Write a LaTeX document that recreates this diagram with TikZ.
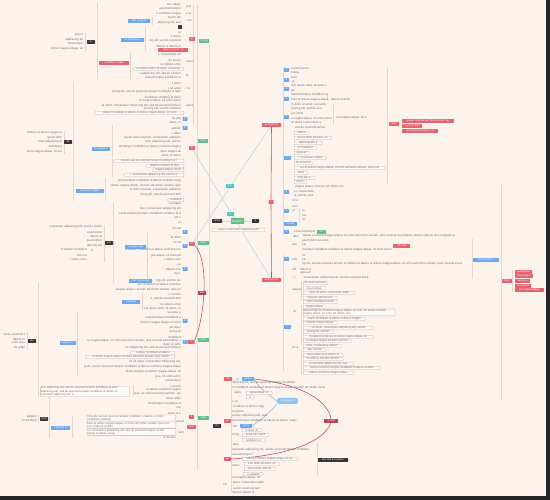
\documentclass[tikz,border=0pt]{standalone}
\usepackage{fontspec}
\setmainfont{Liberation Sans}
\usetikzlibrary{backgrounds}
\definecolor{bgc}{HTML}{FCF3EC}
\definecolor{txc}{HTML}{707070}
\definecolor{palec}{HTML}{E8D5CA}
\definecolor{redc}{HTML}{E3636F}
\definecolor{dredc}{HTML}{B8434D}
\definecolor{bluec}{HTML}{6EA7EC}
\definecolor{lbluec}{HTML}{8FC3F2}
\definecolor{greenc}{HTML}{62BF8A}
\definecolor{darkc}{HTML}{363636}
\definecolor{tealc}{HTML}{4FC2BE}
\definecolor{tlinec}{HTML}{A9DCD5}
\definecolor{rlinec}{HTML}{C2545D}
\definecolor{blinec}{HTML}{8DBEEA}
\definecolor{wbc}{HTML}{BDB5AF}
\definecolor{wfc}{HTML}{FFFAF6}
\newcount\tkcnt \newcount\tkskp
\def\tkstr{Lorem~ipsum~dolor~sit~amet,~consectetur~adipiscing~elit,~sed~do~eiusmod~tempor~incididunt~ut~labore~et~dolore~magna~aliqua.~Ut~enim~ad~minim~veniam,~quis~nostrud~exercitation~ullamco~laboris~nisi~ut~aliquip~ex~ea~commodo~consequat.~Duis~aute~irure~dolor~in~reprehenderit~in~voluptate~velit~esse~cillum~dolore~eu~fugiat~nulla~pariatur.~Excepteur~sint~occaecat~cupidatat~non~proident,~sunt~in~culpa~qui~officia~deserunt~mollit~anim~id~est~laborum.}
\def\tkloop#1{\ifx\relax#1\let\tknext\relax\else
  \ifnum\tkskp>0 \advance\tkskp by -1 \let\tknext\tkloop\else
  \ifnum\tkcnt>0 #1\advance\tkcnt by -1 \let\tknext\tkloop\else
  \let\tknext\tkgobble\fi\fi\fi\tknext}
\def\tkgobble#1\relax{}
\newcommand\tk[2]{\pgfmathtruncatemacro\tkn{max(1,(#2)/1.4)}\pgfmathtruncatemacro\tks{mod(int(#1*7),120)}\tkskp=\tks\relax\tkcnt=\tkn\relax\expandafter\tkloop\tkstr\relax}
\tikzset{
  tr/.style={font=\fontsize{3}{3.6}\selectfont, text=txc, inner sep=0pt, anchor=west},
  tl/.style={tr, anchor=east},
  cb/.style={inner sep=0pt, minimum height=3.6pt, font=\fontsize{2.6}{3}\selectfont, text=white, rounded corners=0.4pt},
  rbox/.style={cb, fill=redc},
  dbox/.style={cb, fill=darkc},
  bbox/.style={cb, fill=bluec},
  gbox/.style={cb, fill=greenc},
  drbox/.style={cb, fill=dredc},
  tbox/.style={cb, fill=tealc},
  wbox/.style={draw=wbc, line width=0.3pt, fill=wfc, inner sep=0.4pt, rounded corners=0.6pt, font=\fontsize{2.8}{3.3}\selectfont, text=txc, minimum height=3.4pt},
  pale/.style={draw=palec, line width=0.5pt},
}
\begin{document}
\begin{tikzpicture}[x=1pt,y=-1pt]
\useasboundingbox (0,0) rectangle (550,500);
% ---------- left text rows (right aligned)
\foreach \y/\w [count=\i] in {5/16, 9/23, 14/26, 18/13, 23/28, 32/4, 37/13, 41/35, 46/28, 55/24, 60/13, 64/25, 74/45, 78/37, 83/10, 88/15, 92/75, 97/41, 101/43, 105.5/86, 109/40, 119/10, 123/13, 128/11, 133/11, 138/61, 142/41, 147/66, 152/21, 156/21, 181/65, 186/74, 190/55, 195/43, 204/10, 209/46, 214/65, 218/7, 223/3, 228/11, 237/13, 242/12, 250/60, 256/33, 260/17, 265/6, 269/17, 274/8, 281/28, 285/48, 290/65, 295/14, 299/31, 304/24, 309/38, 313/14, 318/35, 323/44, 327/13, 332/14, 337/15, 341/97, 344.5/20, 348/59, 362/60, 367/103, 372/60, 377/26, 381/17, 386/11, 390/35, 394/48, 399/17, 404/35, 408/5, 413/17}
  \node[tl] (L\i) at (181,\y) {\tk{\y}{\w}};
\foreach \x/\y/\w [count=\i] in {83/35/11, 83/40/20, 83/44/13, 83/49/33, 62/133/37, 62/138/14, 62/142/27, 62/147/14, 62/152/37, 102/227/57, 102/232/14, 102/236/14, 102/241/16, 102/246/19, 87/250/29, 87/255/10, 87/260/17, 25/334/22, 25/339/15, 25/343/13, 25/348/13, 37/417/13, 37/421/13, 184/421/6, 184/433/6, 176/437/13, 93/250/3}
  \node[tl] (LL\i) at (\x,\y) {\tk{\y}{\w}};
% ---------- right text rows (left aligned)
\foreach \x/\y/\w [count=\i] in {291/68.7/18, 291/72.7/7, 291/77/7, 291/81.3/6, 291/86/39, 291/90.7/5, 291/95/39, 291/99.3/39, 291/104.3/37, 291/109/36, 291/113.7/14, 291/118.3/41, 291/122.7/33, 294/128/30, 331/99/21, 336/118/32, 294/187/50, 294/192/22, 294/196/23, 292/201/7, 292/206/7, 292/211/4, 302/211/5, 302/215/5, 302/220/5, 292/236/7, 302/236/165, 302/241/30, 292/245/7, 302/245/5, 302/250/94, 302/255/5, 292/259/7, 302/259/5, 302/264/167, 292/269/5, 300/269/12, 300/273/12, 292/278/5, 302/278/71, 292/290/8, 292/311/8, 292/348/8, 232/383/69, 232/388/99, 234/393/8, 232/402/7, 232/407/34, 232/412/12, 232/416/40, 232/421/67, 232/426/6, 232/435/9, 232/445/7, 232/450/82, 232/455/22, 232/466/8, 232/478/29, 232/483/34, 232/488/27, 232/492/27, 223/485/5, 186/7/6, 186/14/6, 186/21/6, 186/62/6, 186/76/6, 186/88/6, 186/106/6, 236/379/4, 294/232/22}
  \node[tr] (R\i) at (\x,\y) {\tk{\y}{\w}};
% ---------- bordered boxes
\foreach \x/\y/\w [count=\i] in {184/69/51, 184/113/89, 184/161/70, 184/166/38, 184/170/31, 184/175/60, 184/200/16, 175/353/44, 175/357/89}
  \node[wbox, anchor=east, minimum width=\w] (WL\i) at (\x,\y) {\tk{\y}{\w-3}};
\foreach \y [count=\i] in {418,425,432}
  \node[wbox, anchor=east, text width=88, align=left] (WM\i) at (176,\y) {\tk{\y}{88}\\\tk{\y+3}{30}};
\node[wbox, text width=88, align=left] (WX) at (85,391.5) {\tk{5}{88}\\\tk{40}{88}\\\tk{90}{40}};
\foreach \x/\y/\w [count=\i] in {294/133/15, 294/138/37, 294/143/28, 294/148/22, 294/153/15, 294/158/32, 294/163/18, 294/168/91, 294/173/13, 294/178/20, 294/182/12, 303/283/24, 303/288/22, 303/293/51, 303/298/34, 303/302/34, 303/307/22, 303/319/62, 303/323/34, 303/328/70, 303/332/30, 303/337/70, 303/341/48, 303/346/38, 303/350/22, 303/355/40, 303/359/40, 303/364/50, 303/368/77, 303/373/50, 246/393/26, 246/397/8, 242/430/19, 242/440/23, 242/459/55, 244/464/35, 244/469/31, 243/474/20, 242/435/27}
  \node[wbox, anchor=west, minimum width=\w] (WR\i) at (\x,\y) {\tk{\y}{\w-3}};
\node[wbox, anchor=west, text width=91, align=left] (WR2L) at (303,312.5) {\tk{12}{91}\\\tk{50}{50}};
\node[wbox, minimum width=53] (wC) at (238.5,230) {\tk{3}{50}};
% ---------- coloured nodes
\foreach \n/\x/\y/\w in {d1/91/42/8, d2/68/142/8, d3/109/243/8, d4/32/341/8, d5/44/419/8, dC1/217/221/10, dC2/255.5/221/7, d6/217/426/8, d7/333/460/30, d8/180/27/4}
  \node[dbox, minimum width=\w] (\n) at (\x,\y) {\tk{\x}{\w-3}};
\foreach \n/\x/\y/\w in {b1/139/21/22, b2/132.5/40/23, b3/101/149/18, b4/90/191/28, b5/135.5/247/21, b6/140.5/281/23, b7/131/302/18, b8/68/343/16, b9/60.5/428/19, bs1/185/119/5, bs2/185/128/5, bs3/185/232/5, bs4/185/246/5, bs5/185/269/5, bs6/185/321/5, bs7/185/342/5, br1/286.5/70/5, br2/286.5/80/5, br3/286.5/89/5, br4/286.5/99/5, br5/286.5/117/5, br6/287.5/158/7, br7/286.5/192/5, br8/286.5/211/5, br9/290.5/224/13, br10/286.5/232/5, br11/286.5/259/5, br12/287.5/327/7, bb1/248/379/12, bb2/246/426/12, bR/486/260/26}
  \node[bbox, minimum width=\w] (\n) at (\x,\y) {\tk{\x}{\w-3}};
\foreach \n/\x/\y/\w in {r1/114/63/30, r2/173/50/30, rL1/192/39/6, rL2/192/148/6, rL3/192/244/6, rL4/191/342/7, rL5/191.5/417/5, rL6/191.5/427/9, rTR/271.5/125/19, rBR/271.5/280/19, rM/271/202/5, rB1/228/379/8, rB2/227.5/421/7, rB3/227.5/459/7, rr1/394/124/10, rr2/428/121/52, rr3/412/126/20, rr4/420/131/36, rr5/401.5/246/17, rr6/507/281/10, rr7/523.5/272/17, rr8/524/276/18, rr9/522.5/281/15, rr10/523/286/16, rr11/529.5/290/29}
  \node[rbox, minimum width=\w] (\n) at (\x,\y) {\tk{\x}{\w-3}};
\foreach \n/\x/\y/\w in {drA/202/293/8, drB/331/421/14}
  \node[drbox, minimum width=\w] (\n) at (\x,\y) {\tk{\x}{\w-3}};
\foreach \n/\x/\y/\w in {g1/204/41/10, g2/203/141/10, g3/203.5/243/11, g4/203.5/340/11, g5/203.5/418/11, gR/321.5/232/9}
  \node[gbox, minimum width=\w] (\n) at (\x,\y) {\tk{\x}{\w-3}};
\node[tbox, minimum width=8] (tA) at (230,186) {\tk{1}{5}};
\node[tbox, minimum width=7] (tB) at (230.5,214) {\tk{2}{4}};
\node[gbox, minimum width=13, minimum height=6, font=\fontsize{3.4}{4}\selectfont] (gC) at (237.5,221) {\tk{0}{10}};
\node[cb, fill=lbluec, minimum width=21, minimum height=6, rounded corners=1.5pt] (bub) at (287.5,401) {\tk{30}{17}};
% ---------- background and connectors
\begin{pgfonlayer}{background}
\fill[black!85] (0,0) rectangle (550,500);
\fill[bgc] (0,0) rectangle (546,496);
\foreach \x/\a/\b in {97/3/80, 73/81/201, 112/125/177, 105/178/201, 113/203/283, 147/232/282, 38/283/397, 77/312/375, 49/397/438, 72/416/438, 133/385/396, 130/53/80, 145/27/51, 152/17/25, 142/293/310, 197/5/470, 209/44/415, 283/67/235, 283/255/372, 387/67/184, 472/239/279, 501/185/400, 327/95/100, 333/104/125, 299/209/222, 231/377/492, 317/443/475, 301/281/300, 301/305/345, 301/350/375, 85/33/51, 64/131/154, 104/225/262, 27/332/350, 38/415/423, 193/5/125, 512/270/292}
  \draw[pale] (\x,\a) -- (\x,\b);
\draw[tlinec, line width=0.5pt] (rTR) -- (rL3);
\draw[tlinec, line width=0.5pt] (rL2) -- (rBR);
\draw[rlinec, line width=0.6pt] (rTR) -- (rM) -- (rBR);
\draw[rlinec, line width=0.6pt] (rL3.south east) .. controls (210,262) and (204,320) .. (rL4.north east);
\draw[rlinec, line width=0.6pt] (bb1.east) .. controls (300,384) and (328,400) .. (drB.north);
\draw[rlinec, line width=0.6pt] (drB.south) .. controls (322,445) and (280,456) .. (rB3.east);
\draw[blinec, line width=0.6pt] (bb1.east) .. controls (258,386) .. (bub.west);
\draw[blinec, line width=0.6pt] (bub.south west) .. controls (268,414) .. (bb2.east);
\draw[palec, line width=0.5pt] (dC1) -- (gC) -- (dC2);
\end{pgfonlayer}
\end{tikzpicture}
\end{document}
